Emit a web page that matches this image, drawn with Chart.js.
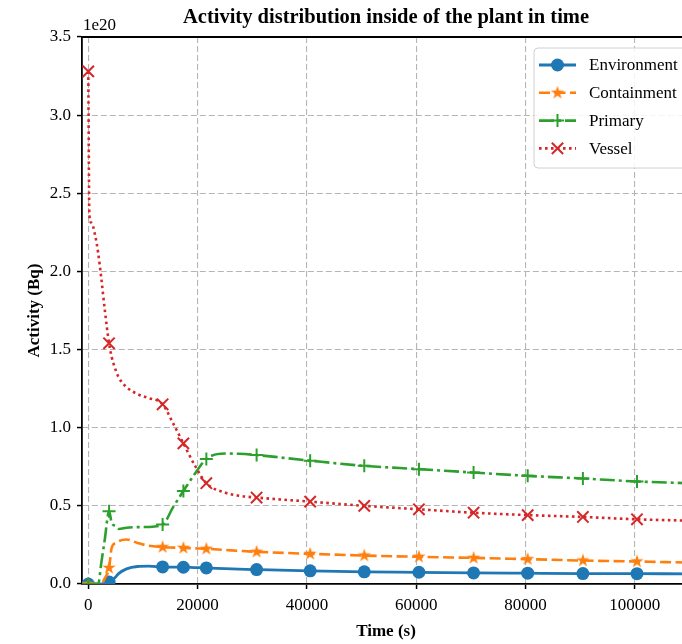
<!DOCTYPE html>
<html>
<head>
<meta charset="utf-8">
<script src="https://cdn.jsdelivr.net/npm/chart.js@4/dist/chart.umd.min.js"></script>
<style>
  body { margin: 0; background: #fff; }
  #wrap { width: 682px; height: 644px; overflow: hidden; }
</style>
</head>
<body>
<div id="wrap"><canvas id="chart" width="700" height="644"></canvas></div>
<script>
// Data (activity in units of 1e20 Bq)
const timeS = [0, 200, 600, 1200, 1800, 2400, 3000, 3800, 4300, 5000, 5600, 7000, 9000, 11000,
  13600, 15500, 17400, 19400, 21600, 25000, 27500, 30800, 40600, 50500, 60500, 70500, 80400,
  90500, 100400, 110000];
const markerTimes = [0, 3800, 13600, 17400, 21600, 30800, 40600, 50500, 60500, 70500, 80400, 90500, 100400];

const environment = [0, 0, 0, 0, 0, 0, 0.003, 0.012, 0.022, 0.045, 0.068, 0.097, 0.112, 0.114,
  0.109, 0.108, 0.107, 0.105, 0.103, 0.098, 0.095, 0.092, 0.084, 0.078, 0.075, 0.071, 0.069,
  0.067, 0.066, 0.065];
const containment = [0, 0, 0, 0, 0, 0, 0.035, 0.103, 0.235, 0.262, 0.275, 0.285, 0.263, 0.245,
  0.236, 0.233, 0.231, 0.228, 0.225, 0.218, 0.212, 0.206, 0.193, 0.182, 0.174, 0.167, 0.159,
  0.150, 0.144, 0.137];
const primary = [0, 0, 0, 0, 0, 0.14, 0.28, 0.465, 0.39, 0.37, 0.352, 0.36, 0.364, 0.365,
  0.38, 0.49, 0.595, 0.70, 0.80, 0.835, 0.833, 0.825, 0.789, 0.756, 0.735, 0.713, 0.692,
  0.675, 0.656, 0.645];
const vessel = [3.28, 2.36, 2.31, 2.24, 2.12, 1.95, 1.76, 1.54, 1.45, 1.37, 1.32, 1.26, 1.215, 1.19,
  1.15, 1.03, 0.90, 0.765, 0.645, 0.585, 0.565, 0.553, 0.527, 0.50, 0.478, 0.456, 0.441,
  0.429, 0.414, 0.405];

const seriesNames = ['Environment', 'Containment', 'Primary', 'Vessel'];
const xTicks = [0, 20000, 40000, 60000, 80000, 100000];
const yTicks = [0, 0.5, 1.0, 1.5, 2.0, 2.5, 3.0, 3.5];

const FONT = '"Liberation Serif", "Times New Roman", serif';

function makeStar(color, r) {
  const c = document.createElement('canvas');
  const s = Math.ceil(r * 2 + 2);
  c.width = s; c.height = s;
  const g = c.getContext('2d');
  g.fillStyle = color;
  g.beginPath();
  for (let i = 0; i < 10; i++) {
    const a = -Math.PI / 2 + i * Math.PI / 5;
    const rr = i % 2 ? r * 0.382 : r;
    const px = s / 2 + rr * Math.cos(a), py = s / 2 + rr * Math.sin(a);
    if (i === 0) g.moveTo(px, py); else g.lineTo(px, py);
  }
  g.closePath();
  g.fill();
  return c;
}

const starImg = makeStar('#ff7f0e', 7);

const styles = [
  { color: '#1f77b4', dash: [], marker: 'circle', r: 6.5, lw: 2.8 },
  { color: '#ff7f0e', dash: [11, 4.5], marker: starImg, r: 7, lw: 2.6 },
  { color: '#2ca02c', dash: [15, 4, 3, 4], marker: 'cross', r: 6.5, lw: 2.6 },
  { color: '#d62728', dash: [2.6, 3.4], marker: 'crossRot', r: 8, lw: 2.6 }
];

const values = [environment, containment, primary, vessel];

function isMarker(i) {
  return markerTimes.includes(timeS[i]);
}

const datasets = values.map((vals, k) => ({
  label: seriesNames[k],
  data: timeS.map((t, i) => ({ x: t, y: vals[i] })),
  borderColor: styles[k].color,
  backgroundColor: styles[k].color,
  borderWidth: styles[k].lw,
  borderDash: styles[k].dash,
  cubicInterpolationMode: 'monotone',
  pointStyle: styles[k].marker,
  pointRadius: ctx => isMarker(ctx.dataIndex) ? styles[k].r : 0,
  pointBorderColor: styles[k].color,
  pointBackgroundColor: styles[k].color,
  pointBorderWidth: k === 0 ? 0 : 2,
  order: 4 - k
}));

function drawMarker(ctx, k, x, y) {
  const st = styles[k];
  ctx.save();
  ctx.setLineDash([]);
  ctx.strokeStyle = st.color;
  ctx.fillStyle = st.color;
  ctx.lineWidth = 2;
  if (k === 0) {
    ctx.beginPath(); ctx.arc(x, y, st.r, 0, Math.PI * 2); ctx.fill();
  } else if (k === 1) {
    ctx.drawImage(starImg, x - starImg.width / 2, y - starImg.height / 2);
  } else if (k === 2) {
    ctx.beginPath();
    ctx.moveTo(x - st.r, y); ctx.lineTo(x + st.r, y);
    ctx.moveTo(x, y - st.r); ctx.lineTo(x, y + st.r);
    ctx.stroke();
  } else {
    const d = st.r * 0.707;
    ctx.beginPath();
    ctx.moveTo(x - d, y - d); ctx.lineTo(x + d, y + d);
    ctx.moveTo(x - d, y + d); ctx.lineTo(x + d, y - d);
    ctx.stroke();
  }
  ctx.restore();
}

// title, top spine, axis titles, offset text and legend
const decorations = {
  id: 'decorations',
  afterDraw(chart) {
    const ctx = chart.ctx;
    const a = chart.chartArea;
    ctx.save();
    // top spine
    ctx.strokeStyle = '#000';
    ctx.lineWidth = 1.8;
    ctx.beginPath(); ctx.moveTo(a.left, a.top); ctx.lineTo(a.right, a.top); ctx.stroke();

    const cx = (a.left + a.right) / 2;
    ctx.fillStyle = '#000';
    ctx.textAlign = 'center';
    ctx.textBaseline = 'middle';
    ctx.font = 'bold 20.5px ' + FONT;
    ctx.fillText('Activity distribution inside of the plant in time', cx, 18);

    ctx.font = 'bold 17px ' + FONT;
    ctx.fillText('Time (s)', cx, 632);
    ctx.save();
    ctx.translate(35, (a.top + a.bottom) / 2);
    ctx.rotate(-Math.PI / 2);
    ctx.fillText('Activity (Bq)', 0, 0);
    ctx.restore();

    ctx.font = '17px ' + FONT;
    ctx.textAlign = 'left';
    ctx.fillText('1e20', 83, 26);

    // legend
    const lx = 534, ly = 48, lw = 160, lh = 120;
    ctx.fillStyle = 'rgba(255,255,255,0.85)';
    ctx.strokeStyle = '#d0d0d0';
    ctx.lineWidth = 1;
    ctx.beginPath();
    ctx.roundRect(lx, ly, lw, lh, 4);
    ctx.fill(); ctx.stroke();
    seriesNames.forEach((name, k) => {
      const y = 65 + k * 27.8;
      ctx.strokeStyle = styles[k].color;
      ctx.lineWidth = styles[k].lw;
      ctx.setLineDash(styles[k].dash);
      ctx.beginPath(); ctx.moveTo(539, y); ctx.lineTo(576, y); ctx.stroke();
      ctx.setLineDash([]);
      drawMarker(ctx, k, 557.5, y);
      ctx.fillStyle = '#000';
      ctx.textAlign = 'left';
      ctx.textBaseline = 'middle';
      ctx.font = '17px ' + FONT;
      ctx.fillText(name, 589, y + 1);
    });
    ctx.restore();
  }
};

new Chart(document.getElementById('chart'), {
  type: 'line',
  data: { datasets: datasets },
  options: {
    responsive: false,
    animation: false,
    layout: { padding: { left: 0, right: 6, top: 37, bottom: 0 } },
    plugins: { legend: { display: false }, tooltip: { enabled: false }, title: { display: false } },
    scales: {
      x: {
        type: 'linear',
        min: -1150,
        max: 110100,
        afterFit: s => { s.height = 60; },
        afterBuildTicks: s => { s.ticks = xTicks.map(v => ({ value: v })); },
        ticks: {
          includeBounds: false,
          color: '#000',
          font: { family: FONT, size: 17 },
          padding: 6,
          maxRotation: 0,
          callback: v => String(v)
        },
        grid: {
          color: '#b5b5b5',
          lineWidth: 1.1,
          tickLength: 5,
          tickColor: '#000',
          tickWidth: 1.5,
          tickBorderDash: []
        },
        border: { display: true, color: '#000', width: 1.8, dash: [6, 3] }
      },
      y: {
        min: 0,
        max: 3.5,
        afterFit: s => { s.width = 82; },
        afterBuildTicks: s => { s.ticks = yTicks.map(v => ({ value: v })); },
        ticks: {
          color: '#000',
          font: { family: FONT, size: 17 },
          padding: 6,
          callback: v => v.toFixed(1)
        },
        grid: {
          color: '#b5b5b5',
          lineWidth: 1.1,
          tickLength: 5,
          tickColor: '#000',
          tickWidth: 1.5,
          tickBorderDash: []
        },
        border: { display: true, color: '#000', width: 1.8, dash: [6, 3] }
      }
    }
  },
  plugins: [decorations]
});
</script>
</body>
</html>
